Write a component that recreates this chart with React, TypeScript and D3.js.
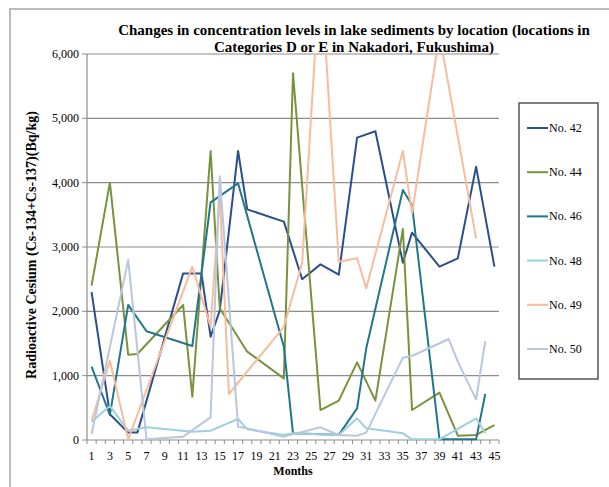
import React from 'react';
import * as d3 from 'd3';

const MONTHS = [1,2,3,4,5,6,7,8,9,10,11,12,13,14,15,16,17,18,19,20,21,22,23,24,25,26,27,28,29,30,31,32,33,34,35,36,37,38,39,40,41,42,43,44,45];
const X_TICK_LABELS = [1,3,5,7,9,11,13,15,17,19,21,23,25,27,29,31,33,35,37,39,41,43,45];
const Y_TICKS = [0,1000,2000,3000,4000,5000,6000];

const TITLE_LINES = [
  'Changes in concentration levels in lake sediments by location (locations in',
  'Categories D or E in Nakadori, Fukushima)',
];
const Y_TITLE = 'Radioactive Cesium (Cs-134+Cs-137)(Bq/kg)';
const X_TITLE = 'Months';

const SERIES_NAMES = ['No. 42','No. 44','No. 46','No. 48','No. 49','No. 50'];

const no42Months = [1,3,5,6,11,13,14,15,17,18,22,24,26,28,30,32,35,36,39,41,43,45];
const no42Values = [2300,400,115,115,2590,2590,1606,2010,4492,3585,3394,2500,2730,2570,4700,4800,2756,3223,2694,2824,4249,2694];

const no44Months = [1,3,5,6,11,12,14,15,18,22,23,26,28,30,32,35,36,39,41,43,45];
const no44Values = [2400,4000,1326,1337,2098,674,4492,2047,1373,958,5700,466,611,1207,611,3280,466,736,67,78,233];

const no46Months = [1,3,5,7,12,14,17,22,23,26,28,30,31,35,36,39,43,44];
const no46Values = [1140,390,2100,1690,1460,3694,3990,1450,104,90,80,492,1425,3886,3653,10,10,715];

const no48Months = [1,3,5,7,12,14,17,18,22,23,28,30,31,35,36,39,43,44];
const no48Values = [285,528,145,197,130,145,326,166,78,104,78,337,181,104,10,10,337,104];

const no49Months = [1,3,5,12,14,15,16,22,24,26,28,30,31,35,36,39,43];
const no49Values = [295,1233,10,2694,1760,3800,715,1760,2750,7400,2772,2824,2358,4492,3523,6300,3135];

const no50Months = [1,5,7,11,14,15,17,18,22,26,28,30,31,35,36,40,41,43,44];
const no50Values = [93,2800,10,52,352,4100,207,181,52,197,78,67,114,1280,1306,1570,1218,632,1539];

const COLORS = ['#2B4F8C','#77933C','#23758C','#9DCFDF','#F7BC9C','#B8C6DE'];

const SERIES_MONTHS = [no42Months,no44Months,no46Months,no48Months,no49Months,no50Months];
const SERIES_VALUES = [no42Values,no44Values,no46Values,no48Values,no49Values,no50Values];

const FONT = "'Liberation Serif', 'Times New Roman', 'DejaVu Serif', serif";

export default function App() {
  const W = 609, H = 487;
  const left = 87, right = 499, top = 54, bottom = 440;
  const x = d3.scaleBand<number>().domain(MONTHS).range([left, right]).padding(0);
  const cx = (m: number) => (x(m) as number) + x.bandwidth() / 2;
  const y = d3.scaleLinear().domain([0, 6000]).range([bottom, top]);
  const line = d3.line<[number, number]>().x(d => cx(d[0])).y(d => y(d[1]));
  const fmt = d3.format(',');

  const series = SERIES_NAMES.map((name, i) => ({
    name,
    color: COLORS[i],
    pts: SERIES_MONTHS[i].map((m, j) => [m, SERIES_VALUES[i][j]] as [number, number]),
  }));

  const boundaries = MONTHS.map(m => x(m) as number).concat([right]);

  const legendX = 519, legendY = 103, legendW = 79, legendH = 276;
  const legendItemY = (i: number) => 128 + i * 44.2;

  return (
    <svg width={W} height={H} style={{ position: 'absolute', left: 0, top: 0, background: '#fff', fontFamily: FONT }}>
      <rect x={0} y={0} width={W} height={H} fill="#fff" />
      <rect x={10} y={9} width={620} height={500} fill="none" stroke="#a6a6a6" strokeWidth={1.5} />
      <defs>
        <clipPath id="plotClip">
          <rect x={left} y={top - 1} width={right - left} height={bottom - top + 2} />
        </clipPath>
      </defs>
      {TITLE_LINES.map((t, i) => (
        <text key={i} x={354} y={35 + i * 17} textAnchor="middle" fontSize={15} fontWeight="bold" fill="#000" style={{ fontFamily: FONT }}>{t}</text>
      ))}
      {Y_TICKS.map(t => (
        <g key={t}>
          <line x1={left} x2={right} y1={y(t)} y2={y(t)} stroke="#8c8c8c" strokeWidth={1.2} />
          <line x1={left - 5} x2={left} y1={y(t)} y2={y(t)} stroke="#8c8c8c" strokeWidth={1} />
          <text x={79} y={y(t) + 4} textAnchor="end" fontSize={12} fill="#000" style={{ fontFamily: FONT }}>{fmt(t)}</text>
        </g>
      ))}
      <line x1={left} x2={left} y1={top} y2={bottom} stroke="#8c8c8c" strokeWidth={1.2} />
      {boundaries.map((b, i) => (
        <line key={i} x1={b} x2={b} y1={bottom} y2={bottom + 4} stroke="#8c8c8c" strokeWidth={1} />
      ))}
      {X_TICK_LABELS.map(m => (
        <text key={m} x={cx(m)} y={460} textAnchor="middle" fontSize={12} fill="#000" style={{ fontFamily: FONT }}>{m}</text>
      ))}
      <text x={293} y={475} textAnchor="middle" fontSize={12} fontWeight="bold" style={{ fontFamily: FONT }}>{X_TITLE}</text>
      <text transform={`translate(36,245) rotate(-90)`} textAnchor="middle" fontSize={14} fontWeight="bold" style={{ fontFamily: FONT }}>{Y_TITLE}</text>
      <g clipPath="url(#plotClip)">
        {series.map(s => (
          <path key={s.name} d={line(s.pts) || ''} fill="none" stroke={s.color} strokeWidth={2} strokeLinejoin="round" />
        ))}
      </g>
      <rect x={legendX} y={legendY} width={legendW} height={legendH} fill="#fff" stroke="#555" strokeWidth={1.5} />
      {series.map((s, i) => (
        <g key={s.name}>
          <line x1={527} x2={548} y1={legendItemY(i)} y2={legendItemY(i)} stroke={s.color} strokeWidth={2} />
          <text x={549} y={legendItemY(i) + 4} fontSize={12} fill="#000" style={{ fontFamily: FONT }}>{s.name}</text>
        </g>
      ))}
    </svg>
  );
}
